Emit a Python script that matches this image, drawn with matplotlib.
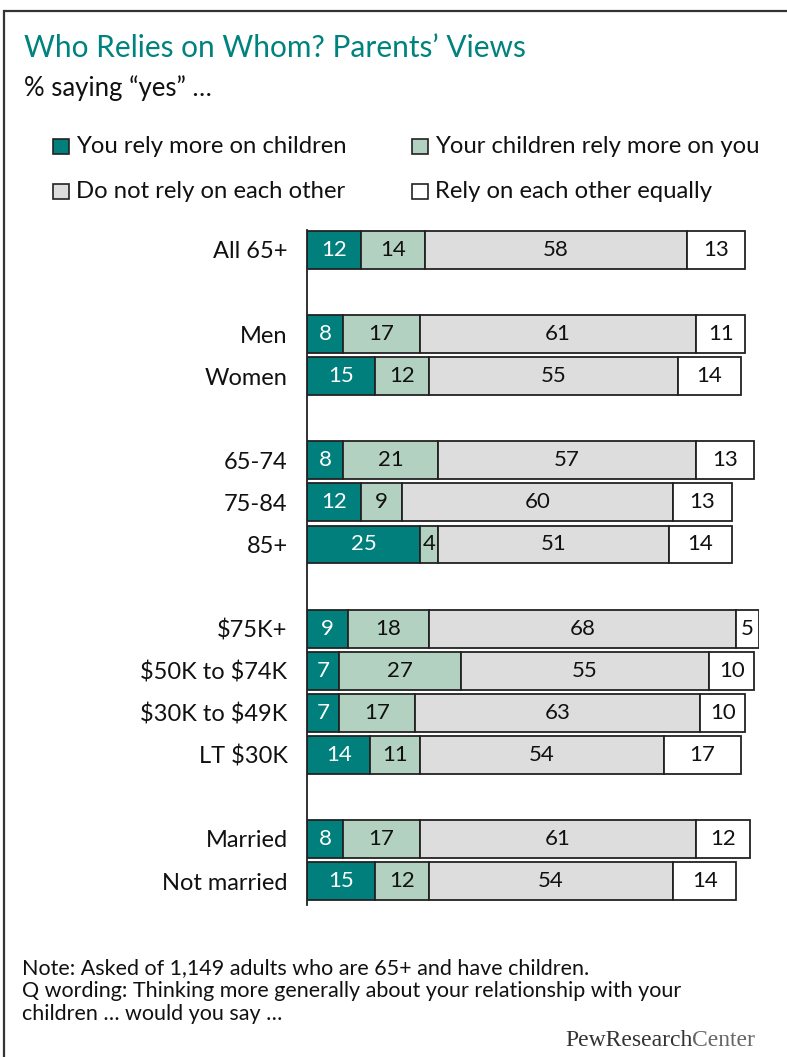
import matplotlib
matplotlib.use("Agg")
import matplotlib.pyplot as plt
from matplotlib.patches import Rectangle
import numpy as np

plt.rcParams['font.family'] = ['Lato', 'DejaVu Sans']
plt.rcParams['text.parse_math'] = False

categories = ["All 65+", "Men", "Women", "65-74", "75-84", "85+",
              "$75K+", "$50K to $74K", "$30K to $49K", "LT $30K",
              "Married", "Not married"]
positions = [0, 2, 3, 5, 6, 7, 9, 10, 11, 12, 14, 15]
series_names = ["You rely more on children", "Your children rely more on you",
                "Do not rely on each other", "Rely on each other equally"]
rely_on_children = [12, 8, 15, 8, 12, 25, 9, 7, 7, 14, 8, 15]
children_rely = [14, 17, 12, 21, 9, 4, 18, 27, 17, 11, 17, 12]
not_rely = [58, 61, 55, 57, 60, 51, 68, 55, 63, 54, 61, 54]
rely_equally = [13, 11, 14, 13, 13, 14, 5, 10, 10, 17, 12, 14]

colors = ["#007F7C", "#B3D1C0", "#DDDDDD", "#FFFFFF"]
text_colors = ["white", "#111111", "#111111", "#111111"]

W, H = 787, 1057
fig = plt.figure(figsize=(W / 100, H / 100), dpi=100)

def fx(x):
    return x / W

def fy(y):
    return 1 - y / H

# frame
fig.patches.append(Rectangle((fx(4), -0.1), 1.2, fy(11) + 0.1, transform=fig.transFigure,
                             fill=False, edgecolor="#333333", linewidth=1.6))

x0 = 307
px_per_unit = 4.52
ax_w = 100 * px_per_unit
ytop, ybot = 230, 905
unit = (881 - 250) / 15
ax = fig.add_axes([fx(x0), fy(ybot), ax_w / W, (ybot - ytop) / H])
ax.set_xlim(0, 100)
ax.set_ylim(15 + (ybot - 881) / unit, -(250 - ytop) / unit)

data = [rely_on_children, children_rely, not_rely, rely_equally]
left = np.zeros(len(categories))
for i, vals in enumerate(data):
    vals = np.array(vals, dtype=float)
    ax.barh(positions, vals, left=left, height=0.9, color=colors[i],
            edgecolor="#222222", linewidth=1.3, zorder=2)
    for p, l, v in zip(positions, left, vals):
        ax.text(l + v / 2, p, f"{int(v)}", ha="center", va="center",
                fontsize=16, color=text_colors[i], zorder=3)
    left += vals

for s in ["top", "right", "bottom"]:
    ax.spines[s].set_visible(False)
ax.spines["left"].set_color("#222222")
ax.spines["left"].set_linewidth(1.3)
ax.set_xticks([])
ax.set_yticks(positions)
ax.set_yticklabels(categories, fontsize=17, color="#111111")
ax.tick_params(axis="y", length=0, pad=14)

# title
fig.text(fx(24), fy(57), "Who Relies on Whom? Parents\u2019 Views", fontsize=21.5,
         color="#00827F", va="baseline", ha="left")
fig.text(fx(24), fy(96), "% saying \u201cyes\u201d \u2026", fontsize=18.5,
         color="#111111", va="baseline", ha="left")

# legend
leg_pos = [(53, 153), (412, 153), (53, 198), (412, 198)]
for (lx, ly), name, c in zip(leg_pos, series_names, colors):
    fig.patches.append(Rectangle((fx(lx), fy(ly + 1)), 16 / W, 15 / H,
                                 transform=fig.transFigure, facecolor=c,
                                 edgecolor="#222222", linewidth=1.2))
    fig.text(fx(lx + 23), fy(ly), name, fontsize=17.2, color="#111111",
             va="baseline", ha="left")

# notes
notes = ["Note: Asked of 1,149 adults who are 65+ and have children.",
         "Q wording: Thinking more generally about your relationship with your",
         "children \u2026 would you say \u2026"]
for k, line in enumerate(notes):
    fig.text(fx(22), fy(974 + 23 * k), line, fontsize=15.5, color="#111111",
             va="baseline", ha="left")
t1 = fig.text(fx(565), fy(1046), "PewResearch", fontsize=17, color="#333333",
              va="baseline", ha="left", family="Liberation Serif")
fig.canvas.draw()
bb = t1.get_window_extent()
fig.text(bb.x1 / W, fy(1046), "Center", fontsize=17, color="#666666",
         va="baseline", ha="left", family="Liberation Serif")

fig.savefig("out.png", dpi=100)
